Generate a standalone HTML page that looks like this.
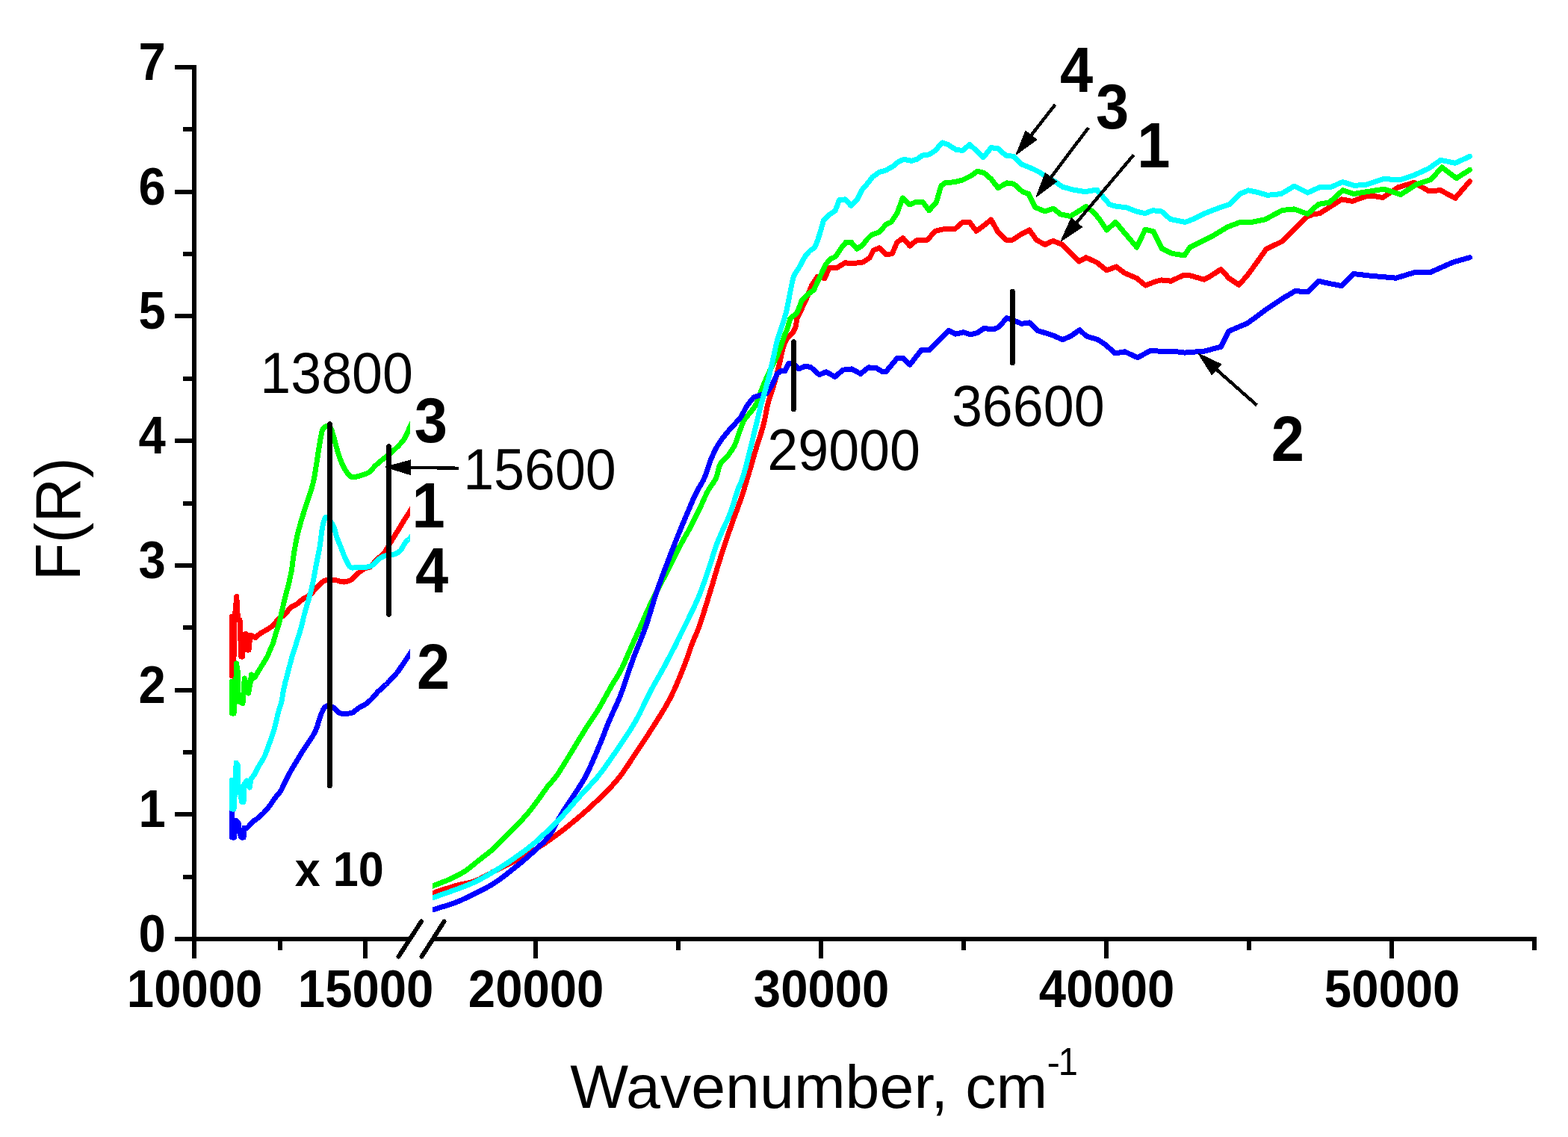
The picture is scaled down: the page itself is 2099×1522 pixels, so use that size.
<!DOCTYPE html>
<html><head><meta charset="utf-8"><title>F(R) vs Wavenumber</title>
<style>html,body{margin:0;padding:0;background:#fff;}svg{display:block;}</style></head>
<body><svg width="2099" height="1522" viewBox="0 0 2099 1522" shape-rendering="crispEdges">
<rect width="2099" height="1522" fill="#fff"/>
<g stroke="#000" stroke-width="6" fill="none" stroke-linecap="butt">
<line x1="260" y1="87" x2="260" y2="1283"/>
<line x1="234" y1="1257.0" x2="263" y2="1257.0"/>
<line x1="234" y1="1090.3" x2="263" y2="1090.3"/>
<line x1="234" y1="923.6" x2="263" y2="923.6"/>
<line x1="234" y1="756.9" x2="263" y2="756.9"/>
<line x1="234" y1="590.1" x2="263" y2="590.1"/>
<line x1="234" y1="423.4" x2="263" y2="423.4"/>
<line x1="234" y1="256.7" x2="263" y2="256.7"/>
<line x1="234" y1="90.0" x2="263" y2="90.0"/>
<line x1="245" y1="1173.6" x2="260" y2="1173.6"/>
<line x1="245" y1="1006.9" x2="260" y2="1006.9"/>
<line x1="245" y1="840.2" x2="260" y2="840.2"/>
<line x1="245" y1="673.5" x2="260" y2="673.5"/>
<line x1="245" y1="506.8" x2="260" y2="506.8"/>
<line x1="245" y1="340.1" x2="260" y2="340.1"/>
<line x1="245" y1="173.4" x2="260" y2="173.4"/>
<line x1="257" y1="1257" x2="548.8" y2="1257"/>
<line x1="579.5" y1="1257" x2="2057" y2="1257"/>
<line x1="489" y1="1254" x2="489" y2="1283"/>
<line x1="717" y1="1254" x2="717" y2="1283"/>
<line x1="1099" y1="1254" x2="1099" y2="1283"/>
<line x1="1481" y1="1254" x2="1481" y2="1283"/>
<line x1="1863" y1="1254" x2="1863" y2="1283"/>
<line x1="374.5" y1="1254" x2="374.5" y2="1271.5"/>
<line x1="908" y1="1254" x2="908" y2="1271.5"/>
<line x1="1290" y1="1254" x2="1290" y2="1271.5"/>
<line x1="1672" y1="1254" x2="1672" y2="1271.5"/>
<line x1="2054" y1="1254" x2="2054" y2="1271.5"/>
</g>
<g stroke="#000" stroke-width="6" stroke-linecap="round">
<line x1="533.5" y1="1280.5" x2="564" y2="1233.5"/>
<line x1="564.5" y1="1280.5" x2="594.5" y2="1233.5"/>
</g>
<defs><clipPath id="cl"><rect x="0" y="0" width="549" height="1522"/></clipPath><clipPath id="cr"><rect x="579" y="0" width="1520" height="1522"/></clipPath></defs>
<g clip-path="url(#cl)" fill="none" stroke-width="7" stroke-linejoin="round" stroke-linecap="round" shape-rendering="crispEdges">
<polyline stroke="#ff0000" points="310.5,825.0 310.5,905.0 312.5,905.0 314.0,830.0 316.8,798.5 318.5,830.0 321.0,830.0 322.8,879.0 324.5,879.0 326.0,850.0 329.0,848.5 331.0,870.0 333.0,870.0 335.0,850.0 342.0,853.4 342.9,852.7 343.8,851.9 344.6,851.1 345.5,850.4 346.4,849.6 347.3,848.9 348.2,848.2 349.1,847.5 350.1,846.9 351.1,846.3 352.1,845.7 353.2,845.1 354.3,844.6 355.3,844.0 356.4,843.4 357.4,842.8 358.5,842.1 359.5,841.4 360.6,840.8 361.7,840.0 362.7,839.3 363.7,838.5 364.7,837.7 365.7,836.9 366.6,836.0 367.5,834.9 368.4,833.9 369.2,832.8 370.1,831.6 371.0,830.6 371.9,829.5 372.8,828.6 373.8,827.8 374.8,827.0 375.8,826.3 376.9,825.7 378.0,825.0 379.1,824.3 380.1,823.5 381.1,822.7 382.2,821.6 383.2,820.4 384.2,819.2 385.2,817.9 386.2,816.6 387.2,815.3 388.2,814.2 389.3,813.2 390.3,812.5 391.3,811.8 392.4,811.3 393.5,810.7 394.5,810.2 395.6,809.7 396.6,809.1 397.6,808.5 398.5,807.8 399.4,807.1 400.3,806.4 401.1,805.6 402.0,804.8 402.8,804.1 403.7,803.3 404.7,802.6 405.8,801.8 407.0,801.1 408.2,800.4 409.5,799.7 410.7,799.0 411.9,798.3 413.1,797.5 414.2,796.7 415.2,795.9 416.1,795.0 417.0,794.2 417.8,793.3 418.7,792.4 419.5,791.5 420.4,790.5 421.3,789.6 422.3,788.5 423.3,787.4 424.4,786.3 425.4,785.1 426.4,784.0 427.5,782.9 428.5,781.9 429.5,781.0 430.3,780.4 431.0,779.8 431.7,779.2 432.4,778.7 433.1,778.2 433.9,777.7 434.7,777.3 435.5,777.0 436.6,776.7 437.7,776.4 439.0,776.2 440.2,776.1 441.5,776.0 442.7,776.0 443.9,776.0 445.0,776.0 445.8,776.0 446.6,776.1 447.3,776.2 448.0,776.4 448.7,776.5 449.5,776.7 450.2,776.8 451.0,777.0 452.0,777.2 453.1,777.5 454.1,777.9 455.2,778.2 456.4,778.5 457.5,778.7 458.5,778.9 459.6,779.0 460.6,779.0 461.5,778.9 462.5,778.7 463.5,778.5 464.4,778.3 465.3,778.0 466.2,777.8 467.0,777.5 467.6,777.3 468.1,777.1 468.7,776.9 469.2,776.6 469.6,776.4 470.1,776.1 470.7,775.8 471.2,775.4 472.0,774.7 472.9,773.9 473.8,773.0 474.7,772.0 475.6,771.0 476.6,770.0 477.5,769.1 478.4,768.2 479.2,767.5 480.0,766.8 480.9,766.1 481.7,765.4 482.5,764.8 483.3,764.1 484.2,763.5 485.0,763.0 485.7,762.5 486.5,762.1 487.3,761.7 488.0,761.3 488.8,760.9 489.5,760.6 490.3,760.3 491.0,760.0 491.6,759.8 492.3,759.7 492.9,759.6 493.5,759.5 494.1,759.4 494.7,759.3 495.4,759.0 496.0,758.7 497.0,757.9 498.0,756.9 498.9,755.7 499.9,754.3 500.9,752.9 501.9,751.5 502.9,750.2 504.0,749.0 505.1,748.0 506.2,747.2 507.3,746.4 508.4,745.6 509.6,744.8 510.7,743.9 511.8,742.9 512.9,741.8 514.3,740.1 515.6,738.2 516.9,736.1 518.2,733.9 519.5,731.7 520.8,729.4 522.1,727.2 523.4,725.0 524.7,722.9 526.1,720.7 527.5,718.5 528.8,716.3 530.2,714.2 531.5,712.1 532.7,710.1 533.9,708.2 534.7,706.8 535.5,705.5 536.3,704.3 537.0,703.0 537.7,701.8 538.4,700.6 539.2,699.3 540.0,698.0 541.1,696.3 542.2,694.5 543.4,692.7 544.6,690.8 545.8,689.0 547.0,687.2 548.0,685.5 549.0,684.0 549.6,683.0 550.1,682.1 550.6,681.2 551.1,680.4 551.6,679.5 552.0,678.7 552.5,677.9 553.0,677.0"/>
<polyline stroke="#00ff00" points="310.5,912.0 310.5,955.0 313.0,955.0 315.5,925.0 316.5,888.0 318.5,900.0 318.5,935.0 321.5,940.0 325.0,941.5 327.3,908.0 329.5,915.0 332.5,928.0 335.0,915.0 336.5,903.0 339.0,908.0 341.5,906.0 347.0,896.8 347.7,895.7 348.4,894.5 349.1,893.4 349.8,892.2 350.5,891.1 351.2,889.9 351.9,888.8 352.6,887.6 353.3,886.5 354.0,885.3 354.7,884.2 355.5,883.0 356.2,881.9 356.8,880.7 357.5,879.6 358.1,878.4 358.6,877.3 359.1,876.1 359.6,874.9 360.0,873.8 360.5,872.6 360.9,871.5 361.3,870.3 361.8,869.2 362.3,868.2 362.7,867.1 363.2,866.1 363.7,865.1 364.2,864.1 364.7,863.1 365.1,862.0 365.5,861.0 365.9,859.9 366.2,858.9 366.5,857.8 366.8,856.8 367.0,855.7 367.3,854.6 367.6,853.4 368.0,852.2 368.5,850.5 369.1,848.7 369.7,846.7 370.4,844.8 371.0,842.8 371.6,840.8 372.2,838.8 372.8,836.9 373.3,835.1 373.8,833.3 374.2,831.6 374.6,829.8 375.0,828.1 375.5,826.3 375.9,824.5 376.3,822.7 376.8,820.8 377.2,818.9 377.7,816.9 378.1,815.0 378.5,813.1 379.0,811.1 379.4,809.2 379.9,807.3 380.3,805.5 380.8,803.7 381.2,801.9 381.6,800.2 382.1,798.4 382.5,796.7 382.9,794.9 383.4,793.1 383.9,791.2 384.4,789.4 384.9,787.5 385.4,785.6 385.9,783.7 386.4,781.8 386.8,779.9 387.3,778.0 387.7,776.1 388.2,774.1 388.6,772.2 389.0,770.2 389.4,768.2 389.8,766.3 390.2,764.3 390.5,762.4 390.8,760.6 391.0,758.9 391.2,757.2 391.4,755.5 391.6,753.7 391.9,751.9 392.1,750.0 392.4,748.0 392.9,744.8 393.4,741.3 394.0,737.7 394.7,733.8 395.4,730.0 396.1,726.2 396.8,722.5 397.5,719.0 398.2,716.1 398.8,713.3 399.5,710.5 400.2,707.8 401.0,705.2 401.7,702.5 402.5,699.9 403.2,697.3 403.9,694.9 404.6,692.5 405.3,690.1 406.1,687.8 406.8,685.4 407.5,683.1 408.3,680.8 409.0,678.5 409.7,676.3 410.5,674.1 411.2,671.9 412.0,669.7 412.7,667.5 413.4,665.4 414.1,663.3 414.8,661.2 415.4,659.4 416.0,657.6 416.5,655.9 417.1,654.1 417.6,652.4 418.1,650.6 418.6,648.7 419.1,646.7 419.7,643.9 420.3,641.0 420.9,637.9 421.5,634.7 422.0,631.4 422.5,628.3 423.0,625.2 423.5,622.2 423.9,619.7 424.3,617.3 424.6,614.9 425.0,612.6 425.3,610.3 425.7,608.0 426.0,605.7 426.4,603.4 426.8,601.2 427.1,598.9 427.4,596.7 427.8,594.4 428.2,592.2 428.5,590.1 428.9,588.0 429.3,586.0 429.6,584.4 429.9,582.8 430.2,581.2 430.5,579.6 430.8,578.2 431.2,576.8 431.6,575.6 432.2,574.5 432.6,573.8 433.1,573.2 433.6,572.7 434.2,572.1 434.7,571.7 435.3,571.3 435.9,571.0 436.5,570.8 437.1,570.7 437.7,570.6 438.4,570.6 439.1,570.6 439.8,570.7 440.4,570.9 441.0,571.2 441.6,571.6 442.4,572.5 443.2,573.8 443.8,575.3 444.4,577.1 445.0,579.0 445.5,580.9 446.1,582.8 446.6,584.6 447.2,586.5 447.7,588.4 448.2,590.4 448.8,592.4 449.3,594.4 449.8,596.4 450.3,598.5 450.9,600.5 451.6,602.7 452.2,604.9 452.9,607.1 453.6,609.4 454.4,611.6 455.1,613.7 455.9,615.8 456.7,617.8 457.4,619.4 458.0,620.9 458.7,622.5 459.4,623.9 460.1,625.3 460.9,626.7 461.7,628.1 462.5,629.4 463.3,630.7 464.1,631.9 465.0,633.2 465.9,634.5 466.8,635.6 467.7,636.7 468.7,637.5 469.7,638.1 470.5,638.4 471.4,638.6 472.3,638.7 473.2,638.6 474.2,638.5 475.1,638.4 476.1,638.2 477.0,638.1 478.1,637.9 479.1,637.7 480.2,637.3 481.3,637.0 482.4,636.6 483.5,636.3 484.5,635.9 485.6,635.5 486.6,635.2 487.6,634.9 488.6,634.6 489.5,634.3 490.5,633.9 491.5,633.5 492.4,633.1 493.4,632.5 494.6,631.6 495.8,630.5 497.0,629.3 498.2,628.0 499.4,626.7 500.6,625.4 501.7,624.1 502.9,623.0 503.9,622.1 504.9,621.2 505.9,620.3 506.9,619.4 507.9,618.6 508.9,617.7 509.9,616.9 511.0,616.0 512.2,615.0 513.5,614.0 514.8,613.0 516.1,612.0 517.5,611.0 518.8,610.0 520.1,609.0 521.3,608.0 522.5,607.0 523.6,606.0 524.7,605.0 525.8,604.0 526.9,602.9 528.0,601.9 529.0,601.0 530.0,600.0 530.8,599.2 531.6,598.4 532.4,597.7 533.2,596.9 533.9,596.2 534.6,595.5 535.3,594.7 536.0,594.0 536.6,593.4 537.1,592.8 537.7,592.2 538.2,591.6 538.7,591.0 539.2,590.4 539.7,589.7 540.2,589.0 540.8,588.1 541.3,587.2 541.9,586.2 542.4,585.2 542.9,584.2 543.5,583.1 544.0,582.1 544.5,581.0 545.1,579.8 545.7,578.5 546.2,577.2 546.8,575.9 547.4,574.6 547.9,573.3 548.5,572.1 549.0,571.0 549.4,570.2 549.8,569.4 550.2,568.6 550.5,567.9 550.9,567.2 551.3,566.5 551.6,565.7 552.0,565.0"/>
<polyline stroke="#0000ff" points="310.5,1075.0 310.5,1121.0 313.5,1121.0 315.0,1098.0 319.0,1101.0 321.0,1116.0 323.0,1121.0 326.0,1121.0 327.0,1108.0 330.0,1109.0 333.0,1106.0 338.0,1100.0 343.4,1096.5 344.4,1095.7 345.4,1094.9 346.3,1094.1 347.3,1093.3 348.3,1092.5 349.3,1091.6 350.2,1090.7 351.2,1089.8 352.3,1088.7 353.5,1087.5 354.6,1086.2 355.7,1085.0 356.8,1083.7 358.0,1082.4 359.0,1081.0 360.1,1079.7 361.1,1078.3 362.1,1077.0 363.1,1075.5 364.0,1074.1 365.0,1072.7 366.0,1071.3 366.9,1069.9 367.9,1068.5 368.9,1067.2 369.9,1066.0 370.9,1064.7 372.0,1063.5 373.0,1062.3 374.0,1061.1 374.9,1059.8 375.8,1058.5 376.6,1057.2 377.3,1055.8 378.1,1054.3 378.7,1052.9 379.4,1051.5 380.0,1050.0 380.7,1048.6 381.3,1047.3 381.9,1046.1 382.4,1045.0 383.0,1043.9 383.5,1042.8 384.1,1041.7 384.6,1040.6 385.2,1039.5 385.8,1038.4 386.5,1037.2 387.1,1035.9 387.8,1034.7 388.5,1033.4 389.2,1032.1 389.9,1030.9 390.7,1029.6 391.4,1028.3 392.2,1026.9 393.0,1025.6 393.9,1024.2 394.7,1022.8 395.6,1021.4 396.4,1020.0 397.3,1018.6 398.1,1017.2 398.9,1015.8 399.8,1014.4 400.6,1013.0 401.4,1011.6 402.3,1010.1 403.1,1008.7 404.0,1007.4 404.8,1006.0 405.6,1004.7 406.5,1003.4 407.3,1002.2 408.1,1000.9 409.0,999.7 409.8,998.4 410.7,997.2 411.5,995.9 412.3,994.7 413.2,993.4 414.1,992.2 414.9,991.0 415.8,989.7 416.6,988.5 417.4,987.2 418.2,985.9 419.0,984.6 419.7,983.2 420.5,981.8 421.2,980.4 421.9,979.0 422.6,977.6 423.2,976.1 423.8,974.7 424.3,973.3 424.8,971.9 425.2,970.5 425.6,969.0 426.0,967.6 426.4,966.2 426.8,964.8 427.2,963.5 427.6,962.3 428.0,961.2 428.4,960.0 428.8,958.9 429.2,957.8 429.6,956.7 430.0,955.7 430.5,954.6 431.0,953.5 431.5,952.5 432.0,951.4 432.5,950.3 433.1,949.3 433.7,948.3 434.3,947.5 435.0,946.8 435.6,946.3 436.3,945.8 437.0,945.4 437.7,945.1 438.4,944.8 439.1,944.6 439.9,944.5 440.6,944.5 441.4,944.6 442.2,944.9 443.1,945.2 443.9,945.7 444.8,946.2 445.6,946.8 446.5,947.3 447.3,947.9 448.3,948.6 449.2,949.5 450.2,950.5 451.1,951.5 452.1,952.4 453.1,953.3 454.1,954.1 455.1,954.6 456.0,954.9 457.0,955.1 458.0,955.2 459.0,955.3 460.0,955.2 461.1,955.2 462.1,955.1 463.1,955.1 464.1,955.1 465.2,955.1 466.3,955.0 467.3,955.0 468.4,954.9 469.5,954.7 470.5,954.4 471.5,954.1 472.6,953.6 473.6,952.9 474.7,952.1 475.7,951.2 476.7,950.3 477.8,949.4 478.8,948.6 479.9,947.8 481.0,947.1 482.2,946.4 483.4,945.8 484.7,945.2 485.9,944.6 487.1,943.9 488.3,943.2 489.4,942.5 490.5,941.7 491.6,940.8 492.7,940.0 493.7,939.1 494.7,938.1 495.8,937.2 496.8,936.2 497.8,935.2 498.9,934.1 499.9,932.9 501.0,931.7 502.0,930.5 503.0,929.2 504.1,928.0 505.1,926.8 506.2,925.7 507.2,924.7 508.3,923.8 509.3,922.8 510.4,921.9 511.5,921.0 512.5,920.1 513.6,919.2 514.6,918.3 515.5,917.4 516.5,916.5 517.4,915.6 518.3,914.8 519.1,913.9 520.0,912.9 521.0,912.0 521.9,911.0 523.1,909.8 524.2,908.5 525.5,907.2 526.7,905.9 527.9,904.6 529.1,903.2 530.3,901.9 531.4,900.5 532.4,899.2 533.4,897.9 534.3,896.6 535.2,895.3 536.1,893.9 537.0,892.6 537.9,891.3 538.8,890.0 539.6,888.8 540.5,887.5 541.3,886.3 542.1,885.1 542.9,883.9 543.6,882.7 544.4,881.6 545.1,880.5 545.6,879.7 546.1,879.0 546.6,878.3 547.1,877.7 547.6,877.0 548.0,876.4 548.5,875.7 549.0,875.0 549.5,874.3 550.0,873.5 550.5,872.8 551.0,872.0 551.5,871.3 552.0,870.5 552.5,869.8 553.0,869.0"/>
<polyline stroke="#00ffff" points="310.5,1044.0 310.5,1083.0 313.0,1083.0 314.5,1060.0 316.2,1021.0 318.5,1025.0 319.0,1050.0 321.5,1060.0 323.5,1073.5 326.0,1073.5 326.8,1050.0 330.5,1045.0 332.5,1052.0 334.2,1054.0 336.0,1043.0 341.1,1036.1 341.8,1034.7 342.5,1033.3 343.2,1031.9 343.8,1030.5 344.5,1029.2 345.2,1027.8 346.0,1026.4 346.7,1025.0 347.5,1023.6 348.4,1022.2 349.2,1020.8 350.1,1019.4 351.0,1018.0 351.8,1016.6 352.7,1015.2 353.4,1013.8 354.1,1012.4 354.7,1011.0 355.2,1009.7 355.8,1008.3 356.3,1006.9 356.8,1005.5 357.4,1004.0 357.9,1002.6 358.5,1001.1 359.0,999.6 359.6,998.1 360.1,996.5 360.7,995.0 361.2,993.4 361.8,991.9 362.3,990.3 362.9,988.7 363.5,987.0 364.0,985.3 364.6,983.6 365.2,982.0 365.8,980.3 366.3,978.6 366.8,976.9 367.3,975.2 367.7,973.6 368.2,971.9 368.6,970.2 369.0,968.5 369.4,966.9 369.8,965.2 370.2,963.5 370.6,961.8 371.0,960.1 371.4,958.4 371.8,956.7 372.2,955.0 372.6,953.4 373.1,951.7 373.5,950.1 373.9,948.7 374.3,947.3 374.8,945.9 375.2,944.6 375.7,943.3 376.1,941.9 376.5,940.4 376.9,938.9 377.3,936.9 377.7,934.8 378.1,932.6 378.5,930.3 378.8,928.0 379.2,925.7 379.6,923.3 380.1,921.0 380.7,918.3 381.4,915.6 382.0,912.9 382.8,910.1 383.5,907.3 384.3,904.5 385.0,901.7 385.7,899.0 386.4,896.4 387.0,893.9 387.7,891.4 388.3,888.8 389.0,886.3 389.6,883.9 390.3,881.4 391.0,879.0 391.7,876.8 392.3,874.7 393.0,872.6 393.7,870.5 394.3,868.4 395.0,866.3 395.7,864.2 396.4,862.0 397.1,859.7 397.9,857.3 398.6,855.0 399.4,852.6 400.1,850.2 400.9,847.8 401.6,845.3 402.3,842.8 403.1,839.9 403.8,837.0 404.6,834.0 405.3,831.0 406.0,828.0 406.8,824.9 407.5,822.0 408.3,819.1 409.0,816.5 409.8,813.9 410.5,811.4 411.3,808.9 412.1,806.4 412.8,804.0 413.5,801.5 414.2,799.0 414.8,796.6 415.4,794.3 416.0,792.0 416.6,789.6 417.2,787.3 417.7,784.9 418.3,782.5 418.8,780.0 419.4,777.0 420.0,774.0 420.6,770.8 421.2,767.7 421.8,764.5 422.3,761.3 422.9,758.2 423.5,755.1 424.1,752.3 424.6,749.6 425.2,746.9 425.7,744.2 426.3,741.5 426.8,738.9 427.3,736.2 427.8,733.5 428.2,730.8 428.6,728.0 429.0,725.2 429.3,722.4 429.6,719.6 430.0,716.9 430.3,714.3 430.7,711.8 431.0,709.8 431.3,707.8 431.7,705.8 432.0,703.9 432.3,702.0 432.7,700.3 433.1,698.7 433.6,697.3 433.9,696.5 434.2,695.6 434.6,694.8 434.9,694.1 435.3,693.4 435.7,692.9 436.1,692.5 436.5,692.3 437.0,692.3 437.5,692.6 438.0,692.9 438.6,693.4 439.1,694.0 439.7,694.6 440.3,695.3 440.8,695.9 441.5,696.8 442.3,697.7 443.1,698.7 443.8,699.8 444.6,700.9 445.3,702.1 446.0,703.3 446.6,704.6 447.3,706.2 447.8,707.9 448.4,709.7 448.8,711.5 449.3,713.4 449.8,715.3 450.3,717.2 450.9,719.0 451.6,720.8 452.2,722.6 453.0,724.5 453.7,726.3 454.5,728.1 455.2,729.9 456.0,731.7 456.7,733.5 457.4,735.3 458.1,737.2 458.8,739.0 459.5,740.8 460.2,742.7 460.9,744.4 461.7,746.2 462.5,747.9 463.3,749.5 464.1,751.2 464.9,753.0 465.8,754.7 466.7,756.2 467.6,757.6 468.6,758.7 469.7,759.5 470.5,759.8 471.4,760.0 472.2,760.0 473.1,760.0 474.0,759.8 475.0,759.7 476.0,759.6 477.0,759.5 478.5,759.5 480.1,759.5 481.9,759.5 483.6,759.6 485.4,759.6 487.1,759.5 488.8,759.4 490.3,759.2 491.4,759.0 492.4,758.8 493.4,758.6 494.4,758.4 495.4,758.1 496.3,757.7 497.2,757.3 498.2,756.8 499.4,756.0 500.6,755.0 501.7,753.9 502.9,752.7 504.0,751.4 505.2,750.2 506.4,749.2 507.6,748.2 508.7,747.4 509.9,746.7 511.0,746.0 512.2,745.4 513.4,744.8 514.6,744.3 515.8,743.8 517.1,743.4 518.4,743.1 519.8,742.9 521.2,742.8 522.7,742.7 524.1,742.6 525.5,742.5 526.8,742.3 528.1,741.9 529.2,741.5 530.3,741.0 531.3,740.5 532.3,739.9 533.3,739.3 534.2,738.6 535.1,737.8 536.0,737.0 536.9,736.0 537.7,734.8 538.4,733.5 539.1,732.1 539.8,730.8 540.5,729.4 541.2,728.2 542.0,727.0 542.8,726.0 543.7,725.1 544.6,724.2 545.6,723.3 546.5,722.5 547.4,721.6 548.2,720.8 549.0,720.0 549.6,719.3 550.1,718.7 550.6,718.1 551.1,717.5 551.6,716.9 552.0,716.2 552.5,715.6 553.0,715.0"/>
</g>
<g clip-path="url(#cr)" fill="none" stroke-width="7" stroke-linejoin="round" stroke-linecap="round" shape-rendering="crispEdges">
<polyline stroke="#ff0000" points="575.0,1197.0 575.5,1196.8 575.9,1196.7 576.3,1196.6 576.8,1196.4 577.2,1196.3 577.7,1196.1 578.3,1195.9 579.0,1195.7 581.5,1194.9 584.6,1193.8 588.4,1192.5 592.5,1191.1 596.9,1189.7 601.3,1188.3 605.5,1187.0 609.4,1185.8 612.8,1184.9 616.1,1184.1 619.4,1183.4 622.7,1182.8 626.0,1182.1 629.2,1181.3 632.5,1180.4 635.7,1179.3 639.0,1178.0 642.4,1176.5 645.6,1174.8 648.9,1173.1 652.2,1171.3 655.5,1169.5 658.7,1167.8 662.0,1166.1 665.3,1164.5 668.6,1162.8 671.9,1161.2 675.2,1159.6 678.5,1158.0 681.8,1156.3 685.0,1154.7 688.2,1153.0 691.2,1151.4 694.3,1149.8 697.2,1148.2 700.2,1146.5 703.2,1144.9 706.1,1143.2 709.0,1141.5 711.9,1139.8 714.7,1138.1 717.5,1136.4 720.3,1134.6 723.0,1132.9 725.8,1131.1 728.6,1129.3 731.4,1127.4 734.2,1125.4 737.4,1123.1 740.7,1120.8 744.0,1118.4 747.3,1115.9 750.6,1113.4 753.9,1110.9 757.2,1108.3 760.5,1105.7 763.8,1103.0 767.1,1100.3 770.4,1097.6 773.7,1094.8 777.0,1092.0 780.3,1089.2 783.6,1086.3 786.8,1083.4 790.2,1080.4 793.6,1077.2 797.0,1074.0 800.4,1070.8 803.7,1067.6 807.0,1064.5 810.1,1061.4 813.0,1058.4 815.2,1056.1 817.3,1053.9 819.3,1051.8 821.2,1049.7 823.1,1047.6 825.0,1045.4 827.0,1043.0 829.0,1040.5 831.7,1037.0 834.4,1033.2 837.1,1029.3 839.9,1025.2 842.7,1021.0 845.5,1016.7 848.3,1012.4 851.1,1008.2 854.2,1003.6 857.3,998.9 860.5,994.1 863.7,989.3 866.8,984.5 869.9,979.6 873.0,974.8 876.0,970.1 878.8,965.7 881.5,961.3 884.3,956.9 886.9,952.6 889.6,948.2 892.1,943.8 894.7,939.2 897.1,934.6 899.6,929.5 902.1,924.3 904.5,919.0 906.8,913.6 909.1,908.1 911.3,902.8 913.4,897.6 915.4,892.5 917.1,888.2 918.7,883.8 920.2,879.6 921.7,875.3 923.1,871.2 924.5,867.2 925.9,863.4 927.3,859.7 928.4,857.0 929.4,854.6 930.4,852.3 931.4,850.0 932.4,847.7 933.4,845.4 934.4,842.8 935.5,840.0 937.1,835.5 938.8,830.5 940.5,825.2 942.2,819.7 943.9,814.1 945.7,808.5 947.4,802.9 949.0,797.6 950.5,792.6 952.1,787.6 953.6,782.6 955.0,777.6 956.5,772.6 958.0,767.8 959.4,762.9 960.9,758.2 962.2,753.9 963.5,749.7 964.8,745.6 966.1,741.5 967.4,737.5 968.8,733.4 970.1,729.4 971.4,725.4 972.7,721.6 974.0,717.7 975.3,713.9 976.6,710.2 977.9,706.4 979.3,702.7 980.6,698.9 981.9,695.2 983.2,691.5 984.6,687.9 985.9,684.3 987.3,680.6 988.6,677.0 989.9,673.4 991.2,669.9 992.4,666.3 993.5,663.0 994.5,659.8 995.6,656.6 996.5,653.4 997.5,650.2 998.5,646.9 999.5,643.5 1000.6,640.0 1001.9,635.7 1003.2,631.1 1004.6,626.5 1006.0,621.8 1007.4,617.0 1008.7,612.2 1010.1,607.5 1011.5,602.9 1012.8,598.5 1014.2,594.2 1015.6,589.9 1017.0,585.6 1018.3,581.3 1019.6,577.1 1020.9,572.9 1022.0,568.7 1022.9,564.8 1023.8,561.0 1024.6,557.1 1025.3,553.3 1026.0,549.5 1026.8,545.8 1027.6,542.1 1028.5,538.5 1029.4,535.3 1030.4,532.1 1031.4,529.0 1032.4,525.9 1033.4,522.8 1034.5,519.8 1035.5,516.7 1036.4,513.6 1037.3,510.5 1038.2,507.3 1039.0,504.2 1039.8,501.0 1040.7,497.9 1041.5,494.8 1042.2,491.7 1043.0,488.6 1043.7,485.7 1044.3,482.8 1044.9,479.9 1045.6,477.0 1046.2,474.2 1046.8,471.4 1047.5,468.8 1048.2,466.3 1048.8,464.4 1049.4,462.6 1049.9,460.9 1050.5,459.2 1051.2,457.5 1051.9,456.0 1052.6,454.5 1053.5,453.1 1054.3,452.0 1055.3,450.9 1056.2,449.9 1057.3,449.0 1058.3,448.1 1059.4,447.2 1060.4,446.3 1061.4,445.3 1065.0,438.0 1067.0,426.5 1078.8,401.6 1086.7,381.9 1094.6,370.1 1103.8,372.7 1110.4,358.2 1120.9,358.2 1131.4,351.7 1139.3,353.0 1155.0,351.0 1164.2,345.1 1169.3,335.0 1177.2,331.8 1186.4,341.0 1194.3,339.6 1200.8,324.5 1208.7,318.6 1218.0,329.2 1226.5,322.0 1241.5,321.1 1252.0,309.3 1263.8,306.6 1278.2,306.6 1288.7,297.4 1297.9,297.4 1307.1,309.3 1317.6,301.4 1326.8,294.1 1336.0,310.6 1346.5,321.1 1355.7,321.1 1367.6,313.2 1378.1,307.9 1387.3,321.1 1399.1,327.6 1409.6,322.4 1422.3,327.6 1434.2,339.5 1444.7,350.0 1453.9,344.7 1468.3,351.3 1481.5,361.8 1494.3,357.0 1505.8,365.7 1521.5,372.3 1533.4,382.1 1546.5,376.9 1554.4,374.9 1567.5,376.2 1584.6,368.3 1593.8,369.0 1612.2,374.2 1621.4,369.0 1634.5,360.4 1645.0,372.3 1658.5,381.3 1669.0,369.5 1680.5,354.0 1695.0,333.5 1716.2,323.2 1731.0,308.2 1748.8,290.4 1756.9,287.2 1766.6,285.6 1779.6,277.5 1795.8,266.9 1810.3,269.4 1828.2,262.9 1837.9,262.1 1850.8,264.5 1871.9,250.7 1893.0,244.3 1912.4,255.6 1928.6,254.8 1948.0,265.3 1967.5,242.6"/>
<polyline stroke="#00ff00" points="575.0,1188.0 575.5,1187.8 575.9,1187.6 576.3,1187.3 576.8,1187.1 577.2,1186.9 577.8,1186.7 578.3,1186.4 579.0,1186.1 581.0,1185.3 583.6,1184.3 586.6,1183.1 589.8,1181.9 593.2,1180.6 596.6,1179.3 599.8,1177.9 602.8,1176.6 605.4,1175.4 607.9,1174.2 610.4,1172.9 612.9,1171.7 615.3,1170.4 617.8,1169.0 620.1,1167.6 622.5,1166.1 624.9,1164.5 627.2,1162.8 629.5,1161.0 631.8,1159.1 634.1,1157.3 636.3,1155.4 638.6,1153.5 640.9,1151.7 643.2,1149.9 645.6,1148.1 647.9,1146.3 650.2,1144.6 652.6,1142.8 654.9,1140.9 657.1,1139.1 659.3,1137.2 661.4,1135.3 663.4,1133.4 665.4,1131.4 667.3,1129.5 669.3,1127.5 671.2,1125.5 673.1,1123.5 675.1,1121.5 677.1,1119.5 679.1,1117.6 681.0,1115.6 683.0,1113.7 685.0,1111.7 687.0,1109.7 688.9,1107.7 690.9,1105.7 692.9,1103.6 694.9,1101.5 696.9,1099.4 698.9,1097.3 700.9,1095.1 702.8,1092.9 704.7,1090.8 706.6,1088.6 708.3,1086.5 710.0,1084.4 711.7,1082.3 713.3,1080.1 715.0,1078.0 716.6,1075.9 718.2,1073.7 719.8,1071.5 721.5,1069.2 723.1,1066.9 724.8,1064.5 726.4,1062.1 728.0,1059.8 729.7,1057.5 731.3,1055.2 732.9,1053.1 734.3,1051.4 735.6,1049.8 737.0,1048.3 738.3,1046.8 739.7,1045.3 741.1,1043.7 742.5,1042.0 744.0,1040.0 746.5,1036.5 749.1,1032.5 751.8,1028.2 754.6,1023.7 757.5,1019.0 760.3,1014.4 763.0,1009.8 765.7,1005.5 768.1,1001.6 770.4,997.8 772.7,993.9 775.0,990.1 777.3,986.4 779.6,982.6 781.8,979.0 784.1,975.3 786.3,971.9 788.4,968.6 790.6,965.4 792.7,962.2 794.9,958.9 797.0,955.7 799.1,952.4 801.2,949.0 803.4,945.3 805.6,941.5 807.7,937.7 809.9,933.8 812.0,929.9 814.1,926.1 816.2,922.4 818.2,918.8 819.9,915.9 821.6,913.0 823.3,910.3 825.0,907.6 826.7,904.9 828.3,902.2 829.9,899.4 831.4,896.5 833.0,893.4 834.5,890.2 836.0,886.9 837.4,883.6 838.8,880.3 840.2,877.0 841.7,873.6 843.2,870.2 844.8,866.5 846.5,862.9 848.1,859.1 849.8,855.4 851.5,851.6 853.2,847.8 854.9,843.9 856.7,840.0 858.6,835.7 860.6,831.3 862.5,826.8 864.5,822.3 866.5,817.8 868.6,813.3 870.6,808.7 872.8,804.2 875.1,799.5 877.6,794.7 880.0,789.9 882.6,785.1 885.1,780.3 887.6,775.5 890.1,770.8 892.5,766.1 894.7,761.7 896.9,757.3 899.1,753.0 901.2,748.6 903.3,744.4 905.4,740.2 907.5,736.0 909.6,732.0 911.5,728.5 913.3,725.2 915.1,721.9 917.0,718.6 918.8,715.4 920.6,712.2 922.4,709.0 924.1,705.7 925.8,702.4 927.5,699.1 929.2,695.8 930.8,692.4 932.5,689.1 934.1,685.8 935.7,682.6 937.2,679.4 938.6,676.5 939.9,673.6 941.2,670.8 942.4,667.9 943.7,665.1 945.0,662.4 946.3,659.7 947.7,657.1 949.0,654.8 950.4,652.7 951.9,650.6 953.3,648.5 954.8,646.4 956.1,644.3 957.4,642.2 958.5,640.0 959.4,637.7 960.1,635.3 960.7,632.9 961.3,630.4 961.8,628.0 962.4,625.6 963.2,623.4 964.2,621.3 965.3,619.6 966.5,618.1 967.8,616.6 969.2,615.2 970.7,613.9 972.1,612.5 973.4,611.0 974.7,609.5 976.0,607.8 977.2,606.1 978.4,604.3 979.6,602.6 980.7,600.7 981.9,598.9 982.9,597.0 983.9,595.0 984.9,592.8 985.8,590.6 986.6,588.2 987.3,585.9 988.1,583.5 988.8,581.2 989.6,578.8 990.4,576.6 991.2,574.5 991.9,572.5 992.7,570.4 993.5,568.3 994.3,566.3 995.1,564.4 996.0,562.6 997.0,560.9 997.9,559.6 998.8,558.4 999.8,557.3 1000.9,556.2 1001.9,555.1 1002.9,554.0 1003.9,552.9 1004.9,551.7 1005.9,550.3 1007.0,549.0 1008.0,547.6 1009.0,546.1 1010.0,544.7 1010.9,543.1 1011.9,541.5 1012.8,539.8 1013.9,537.5 1014.9,535.0 1015.8,532.4 1016.8,529.7 1017.7,527.0 1018.6,524.2 1019.6,521.5 1020.6,518.8 1021.7,516.1 1022.8,513.5 1024.0,510.8 1025.1,508.1 1026.3,505.4 1027.5,502.8 1028.7,500.3 1029.8,497.8 1030.8,495.7 1031.8,493.7 1032.8,491.7 1033.8,489.8 1034.8,487.8 1035.8,485.9 1036.8,484.0 1037.7,482.0 1038.6,480.0 1039.5,478.1 1040.3,476.1 1041.2,474.2 1042.0,472.2 1042.8,470.2 1043.5,468.3 1044.3,466.3 1045.0,464.3 1045.7,462.4 1046.3,460.4 1047.0,458.4 1047.6,456.4 1048.2,454.5 1048.9,452.5 1049.5,450.5 1054.0,440.0 1057.8,426.5 1067.0,418.7 1073.6,401.6 1081.5,393.7 1089.3,388.4 1097.2,371.4 1105.1,354.3 1111.7,346.4 1118.2,343.8 1126.1,332.0 1132.7,324.1 1139.3,324.1 1147.1,333.3 1155.0,328.0 1161.0,320.0 1166.6,314.5 1177.1,310.6 1186.4,300.2 1192.8,297.4 1200.8,285.8 1208.3,265.0 1217.9,274.0 1227.0,270.0 1235.0,270.0 1243.6,281.8 1253.4,270.7 1259.8,248.8 1265.1,244.9 1278.2,243.6 1288.7,240.9 1299.3,235.7 1308.5,229.1 1317.6,231.7 1326.8,239.6 1336.0,251.5 1347.9,244.9 1357.1,246.2 1368.9,256.7 1376.8,259.3 1386.0,277.7 1399.1,283.0 1410.0,279.0 1419.8,286.9 1432.8,289.5 1443.4,283.0 1453.9,276.4 1465.7,285.6 1473.6,296.1 1481.5,307.9 1493.3,297.4 1506.5,313.0 1521.8,331.0 1533.0,307.2 1544.2,310.0 1555.4,332.8 1569.2,339.4 1585.5,342.0 1592.8,331.0 1607.0,324.0 1623.3,315.8 1643.0,304.0 1652.0,300.5 1659.7,297.7 1674.3,297.7 1693.7,293.7 1716.4,281.5 1732.6,279.9 1750.4,286.4 1765.0,273.4 1779.6,271.0 1797.4,254.8 1812.0,259.6 1831.4,256.4 1852.5,253.2 1875.1,260.5 1896.2,246.7 1915.6,240.2 1930.2,224.0 1949.6,238.6 1967.5,227.3"/>
<polyline stroke="#0000ff" points="575.0,1219.3 575.5,1219.1 575.9,1219.0 576.3,1218.9 576.8,1218.7 577.2,1218.6 577.7,1218.4 578.3,1218.2 579.0,1218.0 581.5,1217.2 584.7,1216.3 588.4,1215.1 592.6,1213.8 597.0,1212.5 601.3,1211.1 605.5,1209.6 609.4,1208.2 612.8,1206.8 616.2,1205.5 619.5,1204.0 622.7,1202.5 626.0,1201.0 629.2,1199.5 632.5,1197.9 635.7,1196.3 639.0,1194.6 642.3,1193.0 645.7,1191.3 649.0,1189.5 652.2,1187.7 655.5,1185.9 658.8,1183.9 662.0,1181.9 665.3,1179.7 668.7,1177.4 671.9,1175.0 675.2,1172.5 678.5,1169.9 681.7,1167.4 685.0,1164.8 688.2,1162.2 691.5,1159.5 694.9,1156.8 698.3,1154.0 701.6,1151.2 705.0,1148.3 708.2,1145.5 711.4,1142.6 714.5,1139.8 717.3,1137.2 720.0,1134.7 722.7,1132.2 725.3,1129.7 727.9,1127.2 730.4,1124.6 732.7,1121.8 735.0,1119.0 737.1,1115.9 739.1,1112.7 741.0,1109.4 742.8,1106.0 744.5,1102.6 746.3,1099.2 748.1,1095.8 750.0,1092.5 752.0,1089.2 754.1,1085.9 756.3,1082.6 758.4,1079.4 760.6,1076.1 762.7,1072.8 764.9,1069.6 767.0,1066.3 769.1,1063.1 771.2,1059.9 773.3,1056.8 775.3,1053.6 777.4,1050.4 779.4,1047.1 781.5,1043.6 783.5,1040.0 786.0,1035.2 788.4,1030.1 790.9,1024.7 793.3,1019.2 795.7,1013.6 798.1,1008.1 800.3,1002.7 802.5,997.6 804.3,993.3 806.0,989.1 807.6,985.0 809.2,980.9 810.7,976.9 812.3,972.9 813.9,968.9 815.6,964.8 817.4,960.7 819.2,956.5 821.1,952.3 823.0,948.2 824.9,944.1 826.7,940.0 828.5,935.9 830.1,932.0 831.4,928.6 832.6,925.3 833.8,922.0 834.9,918.7 836.0,915.5 837.1,912.2 838.2,909.0 839.3,905.7 840.4,902.4 841.5,899.2 842.6,896.1 843.7,892.9 844.8,889.6 846.0,886.3 847.2,882.9 848.5,879.4 850.2,874.9 852.1,870.2 854.0,865.4 856.1,860.5 858.1,855.5 860.1,850.4 862.1,845.2 864.0,840.0 866.0,834.1 868.0,828.0 869.9,821.7 871.8,815.4 873.7,809.1 875.6,802.9 877.5,796.9 879.4,791.1 881.0,786.4 882.7,781.8 884.3,777.3 885.9,772.9 887.6,768.6 889.2,764.3 890.8,760.0 892.5,755.6 894.1,751.3 895.8,747.0 897.4,742.7 899.1,738.4 900.7,734.1 902.4,729.9 904.0,725.7 905.7,721.5 907.3,717.5 908.9,713.5 910.6,709.5 912.2,705.6 913.8,701.6 915.5,697.7 917.1,693.8 918.8,689.9 920.4,686.0 922.1,682.1 923.7,678.2 925.4,674.3 927.0,670.5 928.7,666.7 930.4,663.1 932.0,659.7 933.4,657.0 934.8,654.5 936.2,652.1 937.5,649.8 938.9,647.5 940.3,645.1 941.6,642.6 942.8,640.0 944.1,636.9 945.3,633.6 946.5,630.1 947.6,626.7 948.8,623.2 949.9,619.8 951.1,616.5 952.3,613.4 953.4,610.9 954.5,608.5 955.6,606.1 956.7,603.8 957.8,601.5 959.0,599.3 960.2,597.1 961.5,595.0 962.7,593.1 964.0,591.2 965.3,589.3 966.6,587.5 967.9,585.7 969.3,584.0 970.6,582.3 972.0,580.6 973.3,579.0 974.6,577.5 975.9,576.0 977.3,574.5 978.6,573.0 979.9,571.6 981.2,570.1 982.5,568.7 983.7,567.4 984.9,566.1 986.1,564.8 987.3,563.6 988.4,562.3 989.5,561.0 990.6,559.6 991.7,558.2 992.8,556.5 993.8,554.8 994.7,552.9 995.7,551.1 996.6,549.2 997.6,547.3 998.5,545.5 999.6,543.8 1000.7,542.2 1001.8,540.7 1002.9,539.2 1004.1,537.8 1005.3,536.3 1006.5,534.9 1007.6,533.5 1008.8,532.0 1016.7,529.3 1025.9,526.7 1033.8,514.9 1040.4,500.4 1045.6,496.5 1050.9,496.5 1056.1,486.0 1061.4,486.0 1069.3,493.9 1077.1,490.6 1085.0,491.2 1096.8,501.7 1106.0,497.8 1117.9,504.4 1128.4,495.2 1140.2,493.9 1152.0,500.4 1162.5,491.9 1173.0,492.5 1181.0,497.5 1186.1,497.4 1201.3,479.1 1209.0,479.1 1218.1,488.2 1233.4,468.4 1244.0,468.4 1254.7,457.8 1270.0,442.5 1279.1,447.1 1289.8,444.8 1298.9,447.8 1308.1,445.6 1317.2,439.5 1329.4,441.0 1337.0,437.9 1347.7,425.7 1356.9,428.8 1367.5,433.4 1378.2,431.8 1388.9,442.5 1408.7,448.6 1422.4,454.7 1433.1,450.1 1445.3,441.7 1454.4,450.1 1469.7,454.7 1480.3,461.6 1492.5,473.0 1505.8,470.8 1522.8,478.7 1539.9,469.5 1551.7,470.1 1575.4,470.8 1585.9,472.1 1612.2,470.1 1634.5,464.2 1645.0,443.2 1670.0,432.7 1694.9,414.3 1718.6,398.5 1734.0,389.5 1750.4,391.0 1765.0,376.3 1779.6,379.5 1795.8,382.7 1812.0,366.5 1833.0,369.0 1868.7,372.2 1893.0,364.9 1914.0,364.9 1944.8,351.2 1967.5,344.7"/>
<polyline stroke="#00ffff" points="575.0,1203.0 575.5,1202.8 575.9,1202.7 576.3,1202.6 576.8,1202.4 577.2,1202.3 577.7,1202.1 578.3,1201.9 579.0,1201.7 581.5,1200.9 584.7,1199.8 588.4,1198.5 592.6,1197.1 596.9,1195.6 601.3,1194.0 605.5,1192.5 609.4,1191.1 612.8,1189.8 616.1,1188.6 619.5,1187.4 622.7,1186.1 626.0,1184.8 629.2,1183.5 632.5,1182.1 635.7,1180.6 639.0,1179.0 642.3,1177.3 645.6,1175.5 648.9,1173.7 652.2,1171.9 655.5,1170.0 658.7,1168.0 662.0,1166.1 665.3,1164.1 668.6,1162.0 671.9,1159.9 675.2,1157.8 678.4,1155.7 681.7,1153.5 685.0,1151.3 688.2,1149.0 691.5,1146.6 694.9,1144.2 698.3,1141.8 701.7,1139.3 705.0,1136.8 708.3,1134.3 711.4,1131.8 714.5,1129.3 717.2,1127.0 719.7,1124.8 722.2,1122.5 724.6,1120.2 727.0,1117.9 729.4,1115.6 731.8,1113.3 734.2,1110.9 736.7,1108.5 739.2,1106.1 741.7,1103.6 744.2,1101.2 746.6,1098.7 749.1,1096.2 751.5,1093.7 753.9,1091.2 756.3,1088.6 758.6,1086.0 760.9,1083.3 763.3,1080.6 765.5,1078.0 767.8,1075.3 770.1,1072.7 772.3,1070.2 774.3,1068.0 776.4,1065.7 778.4,1063.5 780.4,1061.4 782.4,1059.3 784.3,1057.2 786.2,1055.1 788.1,1053.1 789.6,1051.4 791.1,1049.9 792.5,1048.4 793.9,1046.9 795.3,1045.4 796.8,1043.7 798.3,1042.0 799.9,1040.0 802.6,1036.5 805.6,1032.7 808.7,1028.5 811.9,1024.0 815.1,1019.5 818.4,1014.8 821.6,1010.1 824.8,1005.5 828.1,1000.6 831.5,995.6 834.9,990.6 838.3,985.4 841.7,980.3 844.9,975.1 848.1,969.9 851.1,964.8 853.8,959.9 856.4,954.9 858.8,950.0 861.2,945.0 863.6,940.0 865.9,935.1 868.3,930.2 870.8,925.4 873.2,920.9 875.6,916.5 878.1,912.2 880.5,907.9 883.0,903.6 885.4,899.2 888.0,894.6 890.5,889.9 893.6,884.1 896.8,877.9 900.0,871.6 903.3,865.2 906.5,858.7 909.7,852.3 912.8,846.0 915.8,840.0 918.3,834.8 920.9,829.7 923.3,824.7 925.7,819.8 928.1,814.9 930.3,810.0 932.5,805.2 934.6,800.3 936.5,795.8 938.2,791.3 939.9,786.8 941.5,782.4 943.1,778.0 944.7,773.6 946.2,769.2 947.7,764.8 949.1,760.6 950.5,756.3 951.8,752.0 953.1,747.8 954.4,743.6 955.7,739.6 956.9,735.7 958.2,732.0 959.2,729.3 960.1,726.8 961.1,724.3 962.0,722.0 963.0,719.6 964.0,717.3 965.0,714.9 966.1,712.3 967.5,709.2 968.9,706.0 970.4,702.8 972.0,699.5 973.6,696.2 975.1,692.8 976.5,689.4 977.9,686.0 979.2,682.4 980.4,678.7 981.6,675.0 982.7,671.2 983.8,667.4 984.9,663.8 986.0,660.4 987.1,657.1 988.0,654.8 988.8,652.6 989.7,650.6 990.6,648.7 991.4,646.7 992.3,644.6 993.1,642.4 994.0,640.0 995.2,636.2 996.4,632.0 997.7,627.5 998.9,622.9 1000.1,618.1 1001.3,613.4 1002.5,608.7 1003.6,604.2 1004.6,600.0 1005.7,595.9 1006.7,591.8 1007.6,587.7 1008.6,583.6 1009.6,579.5 1010.5,575.5 1011.5,571.4 1012.5,567.4 1013.4,563.4 1014.4,559.4 1015.4,555.4 1016.3,551.5 1017.3,547.5 1018.3,543.6 1019.3,539.8 1020.3,536.3 1021.2,532.8 1022.2,529.5 1023.3,526.1 1024.3,522.7 1025.3,519.3 1026.2,515.8 1027.2,512.3 1028.2,508.3 1029.3,504.2 1030.3,500.0 1031.3,495.7 1032.3,491.5 1033.3,487.3 1034.2,483.3 1035.1,479.4 1035.8,476.2 1036.5,473.1 1037.1,470.0 1037.8,467.0 1038.4,464.1 1039.0,461.3 1039.7,458.5 1040.4,455.8 1041.0,453.7 1041.6,451.7 1042.2,449.8 1042.9,447.9 1043.5,446.0 1044.2,444.1 1044.8,442.1 1045.5,440.0 1046.3,437.4 1047.2,434.7 1048.1,431.9 1049.1,429.1 1050.0,426.2 1050.9,423.3 1051.7,420.4 1052.5,417.4 1053.3,414.2 1054.0,410.9 1054.6,407.6 1055.3,404.3 1055.9,400.9 1056.5,397.6 1057.1,394.3 1057.8,391.1 1058.4,388.1 1059.0,385.1 1059.6,382.2 1060.2,379.2 1060.8,376.3 1061.5,373.6 1062.2,371.0 1063.1,368.7 1063.8,367.2 1064.6,365.8 1065.4,364.5 1066.2,363.3 1067.0,362.1 1067.9,360.8 1068.8,359.6 1069.6,358.2 1070.6,356.5 1071.5,354.7 1072.5,352.8 1073.5,350.8 1074.5,348.9 1075.5,347.1 1076.5,345.4 1077.5,343.8 1078.3,342.6 1079.1,341.6 1079.9,340.5 1080.7,339.5 1081.6,338.6 1082.4,337.7 1083.2,336.8 1084.1,335.9 1084.9,335.2 1085.7,334.6 1086.6,334.0 1087.4,333.5 1088.3,332.9 1089.1,332.2 1089.9,331.5 1090.6,330.6 1091.6,329.0 1092.5,327.1 1093.3,325.0 1094.1,322.8 1094.9,320.5 1095.6,318.1 1096.4,315.8 1097.2,313.6 1102.5,295.2 1110.4,287.3 1118.2,282.0 1123.5,267.6 1131.4,266.9 1139.3,275.5 1147.1,267.6 1153.7,254.5 1161.0,246.0 1167.9,237.0 1177.1,230.4 1186.3,227.8 1195.5,222.5 1203.4,216.0 1209.9,213.4 1220.4,215.3 1227.0,213.4 1234.9,208.1 1244.1,206.8 1252.0,201.5 1261.2,191.0 1269.0,193.6 1279.5,200.2 1288.7,201.5 1297.9,193.6 1307.1,201.5 1316.3,210.7 1326.8,197.6 1336.0,198.9 1346.5,208.1 1357.1,209.4 1367.6,219.9 1380.7,225.2 1391.2,230.4 1402.0,237.5 1413.1,243.6 1422.3,250.1 1436.8,254.1 1452.5,256.7 1468.3,254.1 1477.5,264.6 1485.4,273.8 1494.6,276.4 1507.7,277.7 1520.9,283.0 1532.7,285.6 1543.2,281.7 1555.0,283.0 1566.8,293.5 1586.5,297.4 1597.1,293.5 1612.8,285.6 1629.9,279.0 1646.0,273.5 1659.7,259.6 1671.1,254.8 1682.4,257.2 1697.0,261.3 1714.8,259.6 1732.6,249.1 1750.4,258.0 1766.6,250.7 1781.2,250.7 1797.4,243.5 1812.0,248.3 1828.2,247.5 1852.5,239.4 1873.5,241.0 1893.0,234.5 1912.4,225.6 1928.6,214.3 1948.0,218.3 1967.5,209.4"/>
</g>
<g stroke="#000" stroke-width="6.6" stroke-linecap="round">
<line x1="441.4" y1="567.5" x2="441.4" y2="1052"/>
<line x1="520.4" y1="597.5" x2="520.4" y2="822.5"/>
<line x1="1062.4" y1="457.5" x2="1062.4" y2="548"/>
<line x1="1355.3" y1="390" x2="1355.3" y2="486"/>
</g>
<line x1="1380.2" y1="181.3" x2="1412.5" y2="140.0" stroke="#000" stroke-width="4.4"/><polygon points="1360.5,206.5 1387.5,187.0 1373.0,175.6" fill="#000" stroke="#000" stroke-width="1.5" stroke-linejoin="round"/>
<line x1="1406.8" y1="237.5" x2="1457.0" y2="171.0" stroke="#000" stroke-width="4.4"/><polygon points="1387.5,263.0 1414.1,243.0 1399.4,231.9" fill="#000" stroke="#000" stroke-width="1.5" stroke-linejoin="round"/>
<line x1="1441.1" y1="298.0" x2="1517.5" y2="207.5" stroke="#000" stroke-width="4.4"/><polygon points="1420.5,322.5 1448.2,304.0 1434.1,292.1" fill="#000" stroke="#000" stroke-width="1.5" stroke-linejoin="round"/>
<line x1="1628.5" y1="494.7" x2="1682.5" y2="542.5" stroke="#000" stroke-width="4.4"/><polygon points="1604.5,473.5 1622.4,501.6 1634.6,487.8" fill="#000" stroke="#000" stroke-width="1.5" stroke-linejoin="round"/>
<line x1="549.5" y1="625.7" x2="614.0" y2="626.8" stroke="#000" stroke-width="4.4"/><polygon points="516.5,625.2 549.3,635.2 549.7,616.2" fill="#000" stroke="#000" stroke-width="1.5" stroke-linejoin="round"/>
<text font-family="'Liberation Sans', Arial, sans-serif" font-weight="bold" font-size="100" text-anchor="end" transform="matrix(0.65300 0 0 0.70600 221.90 1274.00)">0</text>
<text font-family="'Liberation Sans', Arial, sans-serif" font-weight="bold" font-size="100" text-anchor="end" transform="matrix(0.65300 0 0 0.70600 221.90 1107.29)">1</text>
<text font-family="'Liberation Sans', Arial, sans-serif" font-weight="bold" font-size="100" text-anchor="end" transform="matrix(0.65300 0 0 0.70600 221.90 940.57)">2</text>
<text font-family="'Liberation Sans', Arial, sans-serif" font-weight="bold" font-size="100" text-anchor="end" transform="matrix(0.65300 0 0 0.70600 221.90 773.86)">3</text>
<text font-family="'Liberation Sans', Arial, sans-serif" font-weight="bold" font-size="100" text-anchor="end" transform="matrix(0.65300 0 0 0.70600 221.90 607.14)">4</text>
<text font-family="'Liberation Sans', Arial, sans-serif" font-weight="bold" font-size="100" text-anchor="end" transform="matrix(0.65300 0 0 0.70600 221.90 440.43)">5</text>
<text font-family="'Liberation Sans', Arial, sans-serif" font-weight="bold" font-size="100" text-anchor="end" transform="matrix(0.65300 0 0 0.70600 221.90 273.71)">6</text>
<text font-family="'Liberation Sans', Arial, sans-serif" font-weight="bold" font-size="100" text-anchor="end" transform="matrix(0.65300 0 0 0.70600 221.90 107.00)">7</text>
<text font-family="'Liberation Sans', Arial, sans-serif" font-weight="bold" font-size="100" text-anchor="middle" transform="matrix(0.65300 0 0 0.70600 260.60 1348.00)">10000</text>
<text font-family="'Liberation Sans', Arial, sans-serif" font-weight="bold" font-size="100" text-anchor="middle" transform="matrix(0.65300 0 0 0.70600 489.60 1348.00)">15000</text>
<text font-family="'Liberation Sans', Arial, sans-serif" font-weight="bold" font-size="100" text-anchor="middle" transform="matrix(0.65300 0 0 0.70600 717.60 1348.00)">20000</text>
<text font-family="'Liberation Sans', Arial, sans-serif" font-weight="bold" font-size="100" text-anchor="middle" transform="matrix(0.65300 0 0 0.70600 1099.60 1348.00)">30000</text>
<text font-family="'Liberation Sans', Arial, sans-serif" font-weight="bold" font-size="100" text-anchor="middle" transform="matrix(0.65300 0 0 0.70600 1481.60 1348.00)">40000</text>
<text font-family="'Liberation Sans', Arial, sans-serif" font-weight="bold" font-size="100" text-anchor="middle" transform="matrix(0.65300 0 0 0.70600 1863.60 1348.00)">50000</text>
<text font-family="'Liberation Sans', Arial, sans-serif" font-weight="normal" font-size="100" text-anchor="end" transform="matrix(0.73600 0 0 0.77300 553.00 526.30)">13800</text>
<text font-family="'Liberation Sans', Arial, sans-serif" font-weight="normal" font-size="100" text-anchor="end" transform="matrix(0.73600 0 0 0.77300 824.80 654.70)">15600</text>
<text font-family="'Liberation Sans', Arial, sans-serif" font-weight="normal" font-size="100" text-anchor="end" transform="matrix(0.73600 0 0 0.77300 1232.00 629.00)">29000</text>
<text font-family="'Liberation Sans', Arial, sans-serif" font-weight="normal" font-size="100" text-anchor="end" transform="matrix(0.73600 0 0 0.77300 1478.60 570.40)">36600</text>
<text font-family="'Liberation Sans', Arial, sans-serif" font-weight="bold" font-size="100" transform="matrix(0.79500 0 0 0.84700 554.79 592.07)" >3</text>
<text font-family="'Liberation Sans', Arial, sans-serif" font-weight="bold" font-size="100" transform="matrix(0.79500 0 0 0.84700 551.40 706.32)" >1</text>
<text font-family="'Liberation Sans', Arial, sans-serif" font-weight="bold" font-size="100" transform="matrix(0.79500 0 0 0.84700 555.99 793.07)" >4</text>
<text font-family="'Liberation Sans', Arial, sans-serif" font-weight="bold" font-size="100" transform="matrix(0.79500 0 0 0.84700 558.04 921.69)" >2</text>
<text font-family="'Liberation Sans', Arial, sans-serif" font-weight="bold" font-size="100" transform="matrix(0.79500 0 0 0.84700 1418.99 123.07)" >4</text>
<text font-family="'Liberation Sans', Arial, sans-serif" font-weight="bold" font-size="100" transform="matrix(0.79500 0 0 0.84700 1466.99 172.12)" >3</text>
<text font-family="'Liberation Sans', Arial, sans-serif" font-weight="bold" font-size="100" transform="matrix(0.79500 0 0 0.84700 1522.20 223.87)" >1</text>
<text font-family="'Liberation Sans', Arial, sans-serif" font-weight="bold" font-size="100" transform="matrix(0.79500 0 0 0.84700 1701.74 617.10)" >2</text>
<text font-family="'Liberation Sans', Arial, sans-serif" font-weight="bold" font-size="100" transform="matrix(0.61161 0 0 0.64930 394.79 1185.95)" >x 10</text>
<text font-family="'Liberation Sans', Arial, sans-serif" font-weight="normal" font-size="100" transform="matrix(0 -0.82534 0.85903 0 107.00 777.30)">F(R)</text>
<text font-family="'Liberation Sans', Arial, sans-serif" font-weight="normal" font-size="100" transform="matrix(0.82516 0 0 0.81379 763.29 1483.30)">Wavenumber, cm</text>
<text font-family="'Liberation Sans', Arial, sans-serif" font-weight="normal" font-size="100" transform="matrix(0.52653 0 0 0.50000 1401.53 1439.15)">-</text>
<text font-family="'Liberation Sans', Arial, sans-serif" font-weight="normal" font-size="100" transform="matrix(0.47067 0 0 0.51159 1416.75 1438.90)">1</text>
</svg></body></html>
